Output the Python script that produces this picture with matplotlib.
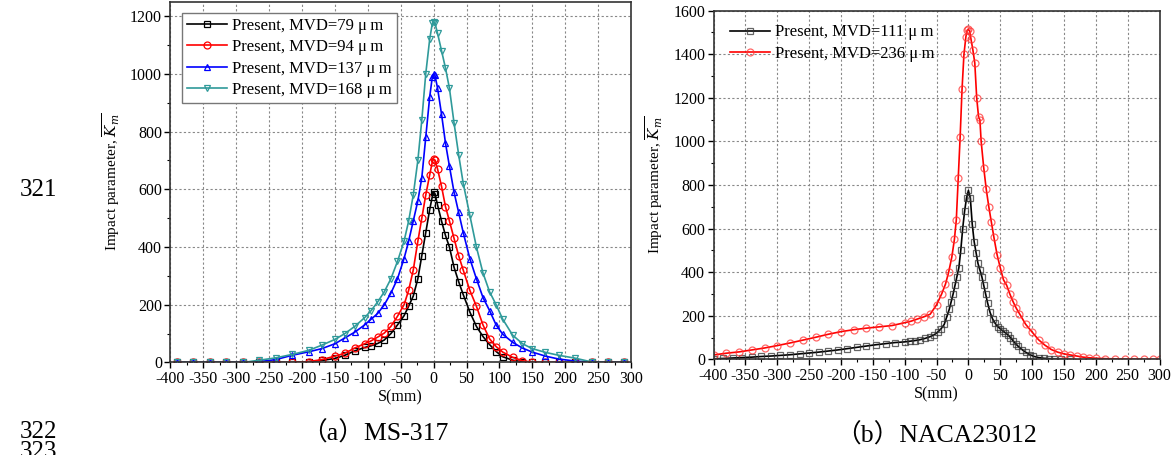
import matplotlib
matplotlib.use("Agg")
import matplotlib.pyplot as plt
from matplotlib.ticker import MultipleLocator

plt.rcParams['font.family'] = ['Liberation Serif', 'Noto Sans CJK SC', 'DejaVu Sans']
plt.rcParams['mathtext.fontset'] = 'dejavuserif'
plt.rcParams['axes.unicode_minus'] = False

# ---------------- data: panel (a) MS-317 ----------------
s_a = [-390, -365, -340, -315, -290, -265, -240, -215, -190, -170, -150, -135, -120, -105,
       -95, -85, -75, -65, -55, -45, -38, -31, -24, -18, -12, -6, -2, 0, 2, 6, 12, 18, 24,
       31, 38, 45, 55, 65, 75, 85, 95, 105, 120, 135, 150, 170, 190, 215, 240, 265, 290]

k_79 = [0, 0, 0, 0, 0, 0, 0, 0, 3, 7, 14, 25, 40, 52,
        58, 66, 78, 100, 130, 162, 195, 230, 290, 370, 450, 530, 575, 590, 585, 545, 490, 440, 400,
        330, 280, 235, 175, 125, 90, 62, 38, 20, 8, 2, 0, 0, 0, 0, 0, 0, 0]
k_94 = [0, 0, 0, 0, 0, 0, 0, 0, 3, 10, 22, 32, 50, 65,
        75, 88, 102, 125, 160, 200, 250, 320, 420, 500, 580, 650, 695, 705, 700, 670, 610, 540, 490,
        430, 370, 320, 250, 195, 130, 82, 55, 36, 18, 6, 1, 0, 0, 0, 0, 0, 0]
k_137 = [0, 0, 0, 0, 0, 3, 10, 25, 37, 48, 65, 85, 105, 130,
         150, 170, 200, 240, 290, 360, 420, 490, 560, 640, 780, 920, 990, 1000, 995, 950, 860, 760, 680,
         590, 520, 450, 360, 290, 225, 180, 130, 98, 70, 50, 36, 22, 12, 5, 1, 0, 0]
k_168 = [0, 0, 0, 0, 0, 8, 16, 28, 42, 60, 80, 100, 125, 155,
         180, 210, 245, 290, 350, 420, 490, 580, 700, 840, 1000, 1120, 1175, 1180, 1175, 1140, 1080, 1020, 950,
         830, 720, 620, 510, 400, 310, 245, 200, 150, 95, 65, 48, 35, 25, 15, 2, 0, 0]
labels_a = ["Present, MVD=79 \u03bc\u2009m", "Present, MVD=94 \u03bc\u2009m",
            "Present, MVD=137 \u03bc\u2009m", "Present, MVD=168 \u03bc\u2009m"]

# ---------------- data: panel (b) NACA23012 ----------------
s_b111 = [-400, -385, -370, -355, -340, -325, -310, -295, -280, -265, -250, -235, -220, -205, -190,
          -175, -160, -145, -130, -115, -100, -92, -84, -76, -68, -60, -54, -48, -43, -38, -34, -30,
          -27, -24, -21, -18, -15, -12, -9, -6, -3, 0, 3, 6, 9, 12, 15, 18, 21, 24, 27, 30, 34, 38,
          42, 46, 50, 54, 58, 62, 66, 70, 74, 78, 84, 90, 96, 102, 110, 118, 126, 134, 145, 160]
k_111 = [2, 4, 6, 8, 10, 13, 15, 18, 21, 25, 29, 33, 38, 43, 49,
         55, 61, 67, 72, 77, 80, 83, 86, 90, 96, 104, 112, 125, 140, 160, 195, 230,
         265, 300, 340, 380, 420, 500, 600, 680, 740, 775, 740, 620, 540, 490, 440, 410, 380, 340, 300, 260, 215, 185,
         165, 150, 140, 130, 122, 112, 100, 85, 72, 60, 45, 32, 22, 14, 8, 5, 3, 1, 0, 0]

s_b236 = [-400, -380, -360, -340, -320, -300, -280, -260, -240, -220, -200, -180, -160, -140, -120,
          -100, -90, -80, -70, -60, -50, -42, -36, -31, -26, -22, -19, -16, -13, -10, -7, -4, -2, 0,
          2, 4, 7, 10, 13, 16, 18, 20, 24, 28, 32, 36, 40, 45, 50, 55, 60, 65, 70, 75, 80, 90, 100,
          110, 120, 130, 140, 150, 160, 170, 180, 190, 200, 215, 230, 245, 260, 275, 290, 300]
k_236 = [20, 28, 34, 43, 52, 63, 75, 88, 101, 115, 127, 136, 143, 149, 155,
         168, 175, 185, 195, 207, 250, 300, 345, 400, 470, 550, 640, 830, 1020, 1240, 1400, 1480, 1510, 1515,
         1505, 1470, 1420, 1360, 1200, 1110, 1100, 1000, 880, 780, 700, 630, 560, 480, 420, 365, 340, 300, 265, 235, 210, 160, 125,
         90, 65, 45, 33, 25, 20, 15, 10, 7, 5, 3, 2, 1, 1, 0, 0, 0]
labels_b = ["Present, MVD=111 \u03bc\u2009m", "Present, MVD=236 \u03bc\u2009m"]

TEAL = '#2f9a9a'

fig = plt.figure(figsize=(11.74, 4.55), dpi=100)
ax1 = fig.add_axes([0.1452, 0.2033, 0.3923, 0.7930])
ax2 = fig.add_axes([0.6078, 0.2103, 0.3799, 0.7662])

def style(ax, ymax, ystep):
    ax.set_xlim(-400, 300)
    ax.set_ylim(0, ymax)
    ax.xaxis.set_major_locator(MultipleLocator(50))
    ax.xaxis.set_minor_locator(MultipleLocator(25))
    ax.yaxis.set_major_locator(MultipleLocator(ystep))
    ax.yaxis.set_minor_locator(MultipleLocator(ystep / 2))
    ax.grid(True, which='major', color='#888888', linestyle=(0, (2, 2)), linewidth=0.8)
    ax.tick_params(which='major', direction='out', length=4, width=1, labelsize=11.5, pad=2)
    ax.tick_params(which='minor', direction='out', length=2.5, width=0.8)
    for sp in ax.spines.values():
        sp.set_color('#333333')
        sp.set_linewidth(1.2)
    ax.set_xlabel('S(mm)', fontsize=11.5, labelpad=2)
    ax.set_ylabel(r'Impact parameter, $\overline{K_m}$', fontsize=11)

style(ax1, 1250, 200)
style(ax2, 1600, 200)

mk = dict(markersize=5, markerfacecolor='none', markeredgewidth=0.9, linewidth=1.2)
ax1.plot(s_a, k_79, color='black', marker='s', label=labels_a[0], **mk)
ax1.plot(s_a, k_94, color='red', marker='o', label=labels_a[1], **mk)
ax1.plot(s_a, k_137, color='blue', marker='^', label=labels_a[2], **mk)
ax1.plot(s_a, k_168, color=TEAL, marker='v', label=labels_a[3], **mk)

ax2.plot(s_b111, k_111, color='black', marker='s', label=labels_b[0],
         markeredgecolor=(0.2, 0.2, 0.2, 0.75), **mk)
ax2.plot(s_b236, k_236, color='red', marker='o', label=labels_b[1],
         markeredgecolor=(1, 0.2, 0.2, 0.75), **mk)

leg1 = ax1.legend(loc='upper left', bbox_to_anchor=(0.025, 0.969), borderaxespad=0,
                  fontsize=12, handlelength=2.4, handletextpad=0.3, labelspacing=0.32,
                  borderpad=0.3, fancybox=False, framealpha=1, edgecolor='#777777')
leg1.get_frame().set_linewidth(1.0)
ax2.legend(loc='upper left', bbox_to_anchor=(0.025, 0.975), borderaxespad=0,
           fontsize=12, handlelength=2.4, handletextpad=0.3, labelspacing=0.32,
           borderpad=0.3, frameon=False)

ax1.yaxis.set_label_coords(-0.105, 0.5)
ax2.yaxis.set_label_coords(-0.109, 0.5)

fig.text(375 / 1174, 1 - 433 / 455, '（a）MS-317', fontsize=18.5, ha='center', va='center')
fig.text(936 / 1174, 1 - 435 / 455, '（b）NACA23012', fontsize=18.5, ha='center', va='center')
fig.text(20 / 1174, 1 - 190 / 455, '321', fontsize=18, ha='left', va='center')
fig.text(20 / 1174, 1 - 432 / 455, '322', fontsize=18, ha='left', va='center')
fig.text(20 / 1174, 1 - 452 / 455, '323', fontsize=18, ha='left', va='center')

fig.savefig('out.png', dpi=100, facecolor='white')
